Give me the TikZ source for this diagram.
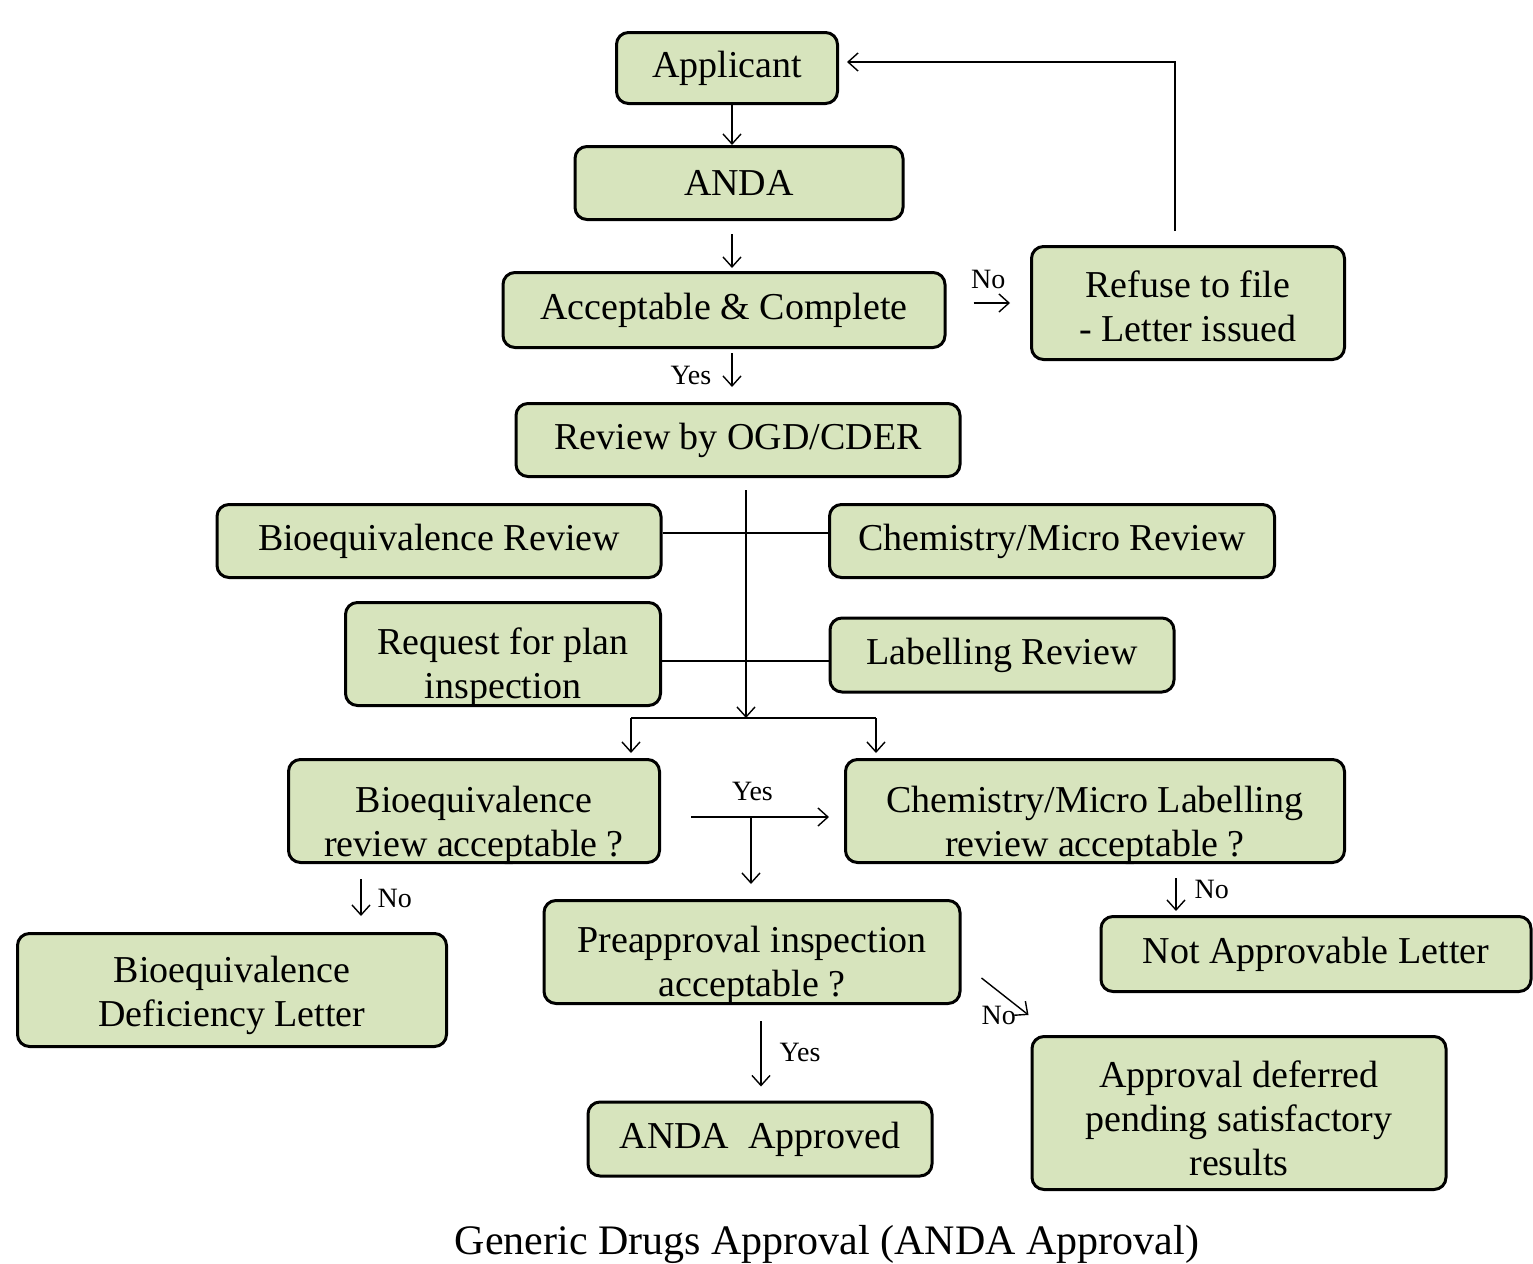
\documentclass[tikz,border=0pt]{standalone}
\usepackage{fontspec}
\setmainfont{Liberation Serif}
\usepackage{xcolor}
\usetikzlibrary{arrows.meta,positioning}
\definecolor{boxgreen}{HTML}{D7E4BD}
\newcommand{\lowstrut}[1]{\rule{0pt}{#1}}

\begin{document}
\begin{tikzpicture}[
  x=0.5pt, y=-0.5pt,
  box/.style={draw, line width=1.5pt, rounded corners=6pt, fill=boxgreen,
              align=center, font=\fontsize{19}{22}\selectfont, inner sep=2pt},
  wh/.style 2 args={minimum width=#1*0.5pt, minimum height=#2*0.5pt},
  flat/.style={text depth=0pt},
  lbl/.style={font=\fontsize{14}{16}\selectfont, inner sep=1pt},
  link/.style={->, line width=0.7pt},
  wire/.style={line width=0.7pt},
  >={Straight Barb[length=5pt,width=9pt]}]
\useasboundingbox (0,0) rectangle (1533,1264);
\node[box, wh={221}{71}] (app) at (727,68) {Applicant};
\node[box, wh={328}{73}] (anda) at (739,183) {ANDA};
\node[box, wh={442}{75}] (acc) at (724,310) {Acceptable \& Complete};
\node[box, wh={313}{113}, flat] (rtf) at (1188,303) {\lowstrut{16pt}Refuse to file\\- Letter issued};
\node[box, wh={444}{73}] (ogd) at (738,440) {Review by OGD/CDER};
\node[box, wh={444}{73}] (bio) at (439,541) {Bioequivalence Review};
\node[box, wh={445}{73}] (chem) at (1052,541) {Chemistry/Micro Review};
\node[box, wh={315}{103}, flat] (plan) at (503,654) {\lowstrut{22pt}Request for plan\\inspection};
\node[box, wh={344}{74}] (lab) at (1002,655) {Labelling Review};
\node[box, wh={371}{103}, flat] (bioacc) at (474,811) {\lowstrut{23pt}Bioequivalence\\review acceptable ?};
\node[box, wh={499}{103}, flat] (chemacc) at (1095,811) {\lowstrut{23pt}Chemistry/Micro Labelling\\review acceptable ?};
\node[box, wh={429}{113}, flat] (bdl) at (232,990) {\lowstrut{14pt}Bioequivalence\\Deficiency Letter};
\node[box, wh={416}{103}, flat] (pre) at (752,952) {\lowstrut{22pt}Preapproval inspection\\acceptable ?};
\node[box, wh={430}{75}] (nal) at (1316,954) {Not Approvable Letter};
\node[box, wh={344}{74}] (ok) at (760,1139) {ANDA\ \ Approved};
\node[box, wh={414}{153}, flat] (def) at (1239,1113) {\lowstrut{18pt}Approval deferred\\pending satisfactory\\results};
\node[font=\fontsize{21}{24}\selectfont, anchor=base] (cap) at (827,1254)
  {Generic Drugs Approval (ANDA Approval)};
% main line
\draw[link] ([xshift=2.5pt]app.south) -- ([xshift=2.5pt]app.south |- anda.north);
\draw[link, shorten <=6.5pt, shorten >=1.5pt] ([xshift=-3.5pt]anda.south)
  -- ([xshift=-3.5pt]anda.south |- acc.north);
\draw[link, shorten <=13.5pt, shorten >=10pt] (acc.east |- rtf.west) -- (rtf.west)
  node[midway, above=6pt, lbl] {No};
\draw[link, shorten <=7pt, shorten >=4pt] ([xshift=-6.5pt]rtf.north) |- ([yshift=3pt]app.east);
\draw[link, shorten <=2pt, shorten >=7.5pt] ([xshift=4pt]acc.south)
  -- ([xshift=4pt]acc.south |- ogd.north) node[midway, left=9pt, lbl] {Yes};
% reviews
\coordinate (split) at (746,718);
\coordinate (splitL) at (631,718);
\coordinate (splitR) at (876,718);
\draw[link, shorten <=6pt] ([xshift=4pt]ogd.south) -- (split);
\draw[wire] ([yshift=4pt]bio.east) -- ([yshift=4pt]bio.east -| chem.west);
\draw[wire] ([yshift=-3.5pt]plan.east) -- ([yshift=-3.5pt]plan.east -| lab.west);
\draw[wire] (splitL) -- (splitR);
\draw[link, shorten >=2.5pt] (splitL) -- (splitL |- bioacc.north);
\draw[link, shorten >=2.5pt] (splitR) -- (splitR |- chemacc.north);
% decisions
\draw[link, shorten <=15pt, shorten >=7.5pt] ([yshift=-3pt]bioacc.east)
  -- ([yshift=-3pt]bioacc.east -| chemacc.west) node[midway, above=7pt, lbl] {Yes};
\coordinate (yesbr) at (751,817);
\draw[link, shorten >=7.5pt] (yesbr) -- (yesbr |- pre.north);
\draw[link, shorten <=7.5pt, shorten >=8pt] ([xshift=-56.5pt]bioacc.south)
  -- ([xshift=-56.5pt]bioacc.south |- bdl.north) node[midway, right=7pt, lbl] {No};
\draw[link, shorten <=7pt, shorten >=2pt] ([xshift=40.5pt]chemacc.south)
  -- ([xshift=40.5pt]chemacc.south |- nal.north) node[midway, right=8pt, lbl] {No};
\draw[link] ([xshift=10pt, yshift=-13pt]pre.east) -- ([xshift=-1pt, yshift=10pt]def.north west)
  node[at end, left=5pt, lbl] {No};
\draw[link, shorten <=8pt, shorten >=7pt] ([xshift=4.5pt]pre.south)
  -- ([xshift=4.5pt]pre.south |- ok.north) node[midway, right=8pt, lbl] {Yes};
\end{tikzpicture}
\end{document}
